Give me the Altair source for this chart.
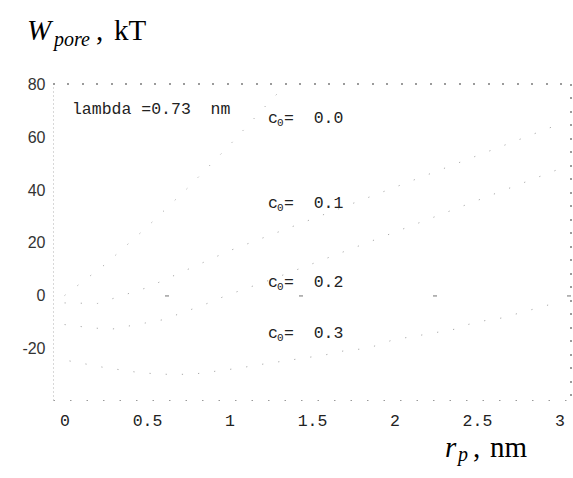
import altair as alt
import pandas as pd

# ---- data (r_p in nm, W_pore in kT) ----
r_c00 = [0.0, 0.25, 0.5, 0.75, 1.0, 1.25, 1.36]
w_c00 = [0.0, 12.0, 26.0, 41.0, 57.0, 74.0, 81.0]
r_c01 = [0.0, 0.2, 0.5, 1.0, 1.5, 2.0, 2.5, 3.0]
w_c01 = [-2.8, -3.0, 3.0, 17.0, 29.0, 41.0, 53.0, 65.0]
r_c02 = [0.0, 0.17, 0.29, 0.42, 0.49, 0.62, 0.69, 0.83, 0.98, 1.25, 1.5, 2.0, 2.5, 3.0]
w_c02 = [-11.0, -12.3, -12.7, -11.2, -10.4, -8.9, -7.0, -3.9, 0.0, 6.0, 12.0, 24.0, 36.0, 48.0]
r_c03 = [0.03, 0.26, 0.31, 0.43, 0.57, 0.67, 0.78, 1.06, 1.17, 1.58, 1.72, 1.80,
         1.86, 1.92, 1.99, 2.20, 2.37, 2.43, 2.54, 2.65, 3.0]
w_c03 = [-24.8, -27.5, -27.9, -29.0, -29.8, -29.9, -29.8, -27.5, -26.3, -22.5, -20.6, -20.3,
         -19.5, -18.4, -16.8, -14.6, -12.7, -11.2, -9.6, -8.5, -2.4]

series_names = ["0.0", "0.1", "0.2", "0.3"]
x_ticks = [0, 0.5, 1, 1.5, 2, 2.5, 3]
y_ticks = [-20, 0, 20, 40, 60, 80]

label_y = [65.4, 33.2, 3.2, -16.1]
label_x = 1.233
lambda_text = "lambda =0.73\u00a0\u00a0nm"
lambda_pos = (0.045, 68.8)

rows = []
for name, rs, ws in zip(series_names, [r_c00, r_c01, r_c02, r_c03], [w_c00, w_c01, w_c02, w_c03]):
    for r, w in zip(rs, ws):
        rows.append({"c0": name, "r": r, "W": w})
df = pd.DataFrame(rows)

ann = pd.DataFrame({"val": ["=\u00a0\u00a0" + s for s in series_names], "x": [label_x] * 4, "y": label_y})
lam = pd.DataFrame({"t": [lambda_text], "x": [lambda_pos[0]], "y": [lambda_pos[1]]})

W = 518
H = 316
XDOM = [-0.07, 3.07]
YDOM = [-39.6, 80.2]
MONO = "Liberation Mono"
SANS = "Liberation Sans"
SERIF = "Liberation Serif"
TXT = "#222"

xs = alt.Scale(domain=XDOM, nice=False, zero=False)
ys = alt.Scale(domain=YDOM, nice=False, zero=False)

xax = alt.Axis(values=x_ticks, labelExpr="'' + datum.value", title=None, grid=False,
               ticks=False, labelPadding=12, labelFont=MONO, labelFontSize=16.5,
               labelColor=TXT, domainColor="#9a9a9a", domainDash=[1.5, 15], domainWidth=1)
yax = alt.Axis(values=y_ticks, labelExpr="'' + datum.value", title=None, grid=False,
               ticks=False, labelPadding=8, labelFont=SANS, labelFontSize=16,
               labelColor="#333", domainColor="#b0b0b0", domainDash=[1, 3], domainWidth=1)

curves = alt.Chart(df).mark_line(color="#aaaaaa", strokeWidth=1, strokeDash=[1.2, 15], clip=True).encode(
    x=alt.X("r:Q", scale=xs, axis=xax),
    y=alt.Y("W:Q", scale=ys, axis=yax),
    detail="c0:N",
)

zero_rule = alt.Chart(df).mark_rule(color="#b0b0b0", strokeDash=[4, 130], strokeWidth=1).encode(
    y=alt.datum(0, scale=ys)
)
top_rule = alt.Chart(df).mark_rule(color="#9a9a9a", strokeDash=[1.5, 13], strokeWidth=1).encode(
    x=alt.value(0), x2=alt.value(W), y=alt.value(0)
)
right_rule = alt.Chart(df).mark_rule(color="#9a9a9a", strokeDash=[1.5, 12], strokeWidth=1).encode(
    x=alt.value(W), y=alt.value(0), y2=alt.value(H)
)

c_txt = alt.Chart(ann).mark_text(font=MONO, fontSize=16.5, color=TXT, align="left", baseline="alphabetic").encode(
    x=alt.X("x:Q", scale=xs), y=alt.Y("y:Q", scale=ys), text=alt.value("c"))
c_sub = alt.Chart(ann).mark_text(font=MONO, fontSize=11, color=TXT, align="left", baseline="alphabetic", dx=9, dy=3).encode(
    x=alt.X("x:Q", scale=xs), y=alt.Y("y:Q", scale=ys), text=alt.value("0"))
c_val = alt.Chart(ann).mark_text(font=MONO, fontSize=16.5, color=TXT, align="left", baseline="alphabetic", dx=16).encode(
    x=alt.X("x:Q", scale=xs), y=alt.Y("y:Q", scale=ys), text="val:N")
lam_txt = alt.Chart(lam).mark_text(font=MONO, fontSize=16.5, color=TXT, align="left", baseline="alphabetic").encode(
    x=alt.X("x:Q", scale=xs), y=alt.Y("y:Q", scale=ys), text="t:N")

def title_piece(txt, px, py, size, italic):
    return alt.Chart(lam).mark_text(font=SERIF, fontSize=size, color="#000", align="left",
                                    baseline="alphabetic", fontStyle="italic" if italic else "normal").encode(
        x=alt.value(px), y=alt.value(py), text=alt.value(txt))

# pieces positioned relative to the plot origin (53, 84)
titles = [
    title_piece("W", -26, -44, 29, True),
    title_piece("pore", 1, -38, 20, True),
    title_piece(",", 43, -44, 29, False),
    title_piece("kT", 61, -44, 29, False),
    title_piece("r", 392, 373, 29, True),
    title_piece("p", 405, 377, 20, True),
    title_piece(",", 420, 373, 29, False),
    title_piece("nm", 437, 373, 29, False),
]

chart = alt.layer(zero_rule, top_rule, right_rule, curves, lam_txt, c_txt, c_sub, c_val, *titles).properties(
    width=W, height=H,
    autosize=alt.AutoSizeParams(type="none"),
    padding={"left": 53, "top": 84, "right": 2, "bottom": 78},
    background="white",
).configure_view(strokeWidth=0)

chart.save("out.html", embed_options={"renderer": "svg", "actions": False})
